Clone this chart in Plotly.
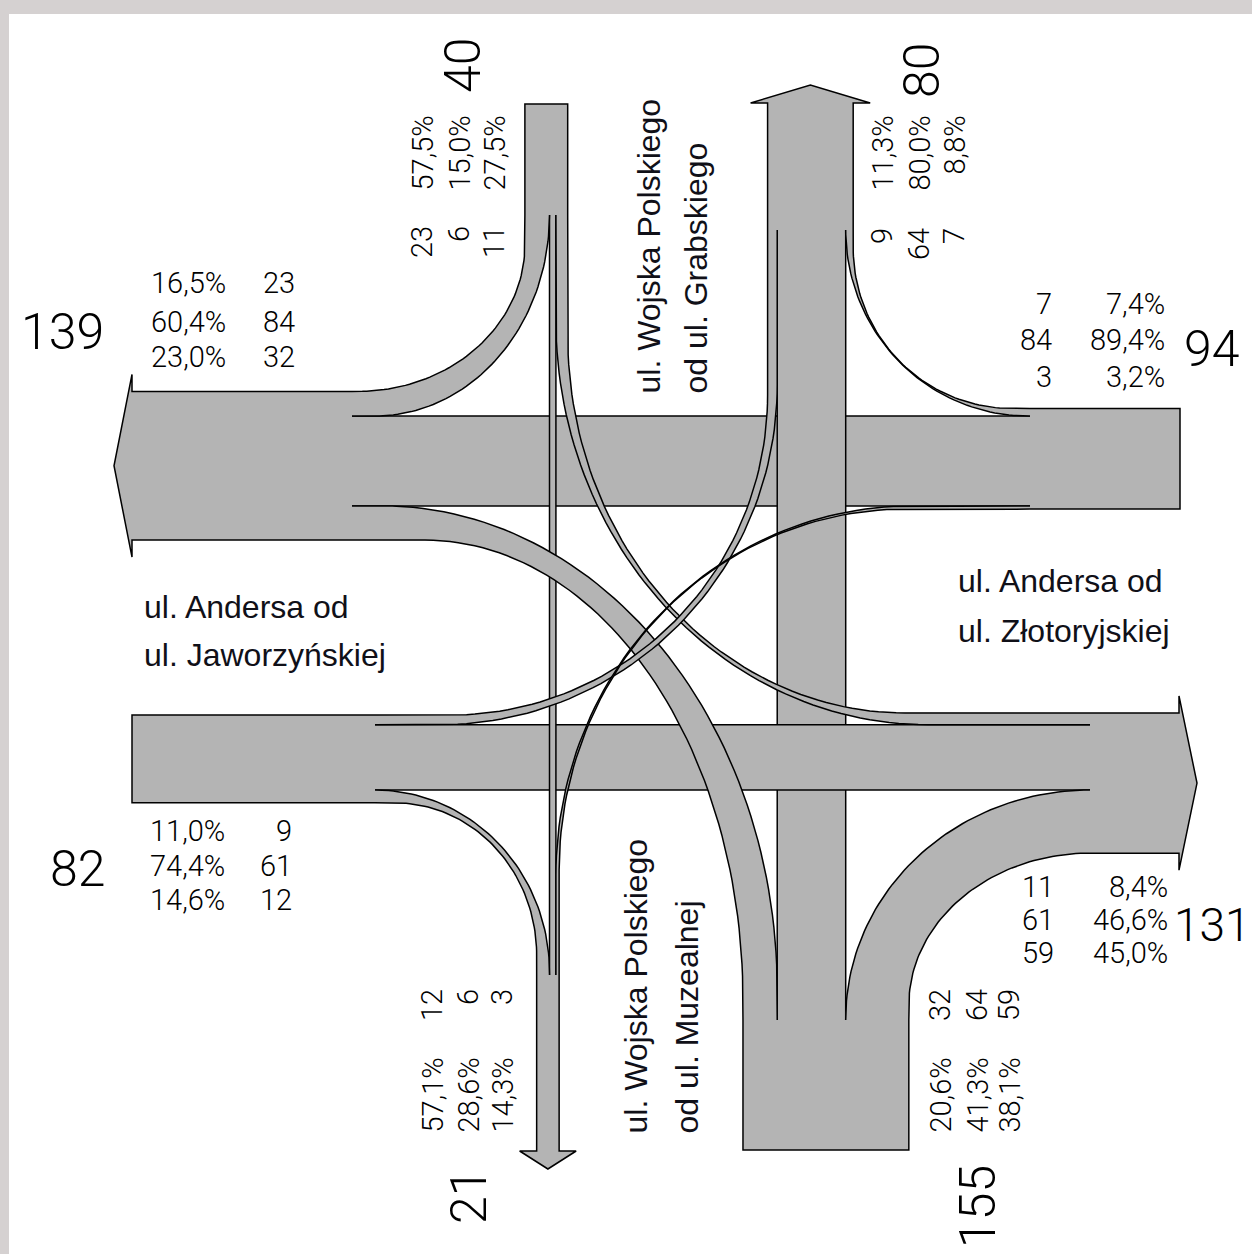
import math
import plotly.graph_objects as go

# natężenia ruchu [P/h] na wlotach: [w prawo, na wprost, w lewo]
wlot_N = [23, 6, 11]    # od ul. Grabskiego
wlot_E = [7, 84, 3]     # od ul. Złotoryjskiej
wlot_S = [59, 64, 32]   # od ul. Muzealnej
wlot_W = [12, 61, 9]    # od ul. Jaworzyńskiej

ulica_N = ["ul. Wojska Polskiego", "od ul. Grabskiego"]
ulica_S = ["ul. Wojska Polskiego", "od ul. Muzealnej"]
ulica_W = ["ul. Andersa od", "ul. Jaworzyńskiej"]
ulica_E = ["ul. Andersa od", "ul. Złotoryjskiej"]

SZARY = "#b4b4b4"
RAMA = "#d5d1d1"
SKALA = 1.07          # px na pojazd
LW = 1.5

WLOT = {"N": wlot_N, "E": wlot_E, "S": wlot_S, "W": wlot_W}
KIER_WLOT = {"N": (0, 1), "E": (-1, 0), "S": (0, -1), "W": (1, 0)}
RAMIE_WLOT = {v: k for k, v in KIER_WLOT.items()}
RAMIE_WYLOT = {(0, -1): "N", (1, 0): "E", (0, 1): "S", (-1, 0): "W"}
KIER_WYLOT = {v: k for k, v in RAMIE_WYLOT.items()}

# położenie krawędzi pasa "na wprost" od strony prawej (wg kierunku jazdy)
KRAWEDZ = {(0, 1): 549.5, (0, -1): 845.7, (-1, 0): 416.0, (1, 0): 790.0}

WJAZD = {"N": 104, "E": 1180, "S": 1150, "W": 132}
PODZIAL = {"N": 215, "E": 1030, "S": 1020, "W": 375}
GROT = {"N": 103, "E": 1179, "S": 1151, "W": 132}
LACZ = {"N": 230, "E": 1090, "S": 975, "W": 352}

# łuki: (ramię, relacja) -> ((początek, koniec) krawędzi prawej, (początek, koniec) krawędzi lewej)
LUKI = {
    ("N", 0): ((245, 358), (215, 375)),
    ("E", 0): ((1012, 248), (1028, 230)),
    ("S", 0): ((1005, 1090), (1019, 1090)),
    ("W", 0): ((395, 955), (375, 972)),
    ("N", 2): ((320, 928), (335, 905)),
    ("S", 2): ((990, 382), (1000, 425)),
    ("W", 2): ((440, 385), (450, 395)),
    ("E", 2): ((912, 875), (905, 870)),
}


def prawo(d):
    return (-d[1], d[0])


def lewo(d):
    return (d[1], -d[0])


def pion(d):
    return d[0] == 0


def znak(d):
    l = lewo(d)
    return l[0] if pion(d) else l[1]


def pt(d, wzdl, poprz):
    return (poprz, wzdl) if pion(d) else (wzdl, poprz)


def pasy(d, f):
    c0 = KRAWEDZ[d]
    sg = znak(d)
    return [(c0 - sg * f[0] * SKALA, c0),
            (c0, c0 + sg * f[1] * SKALA),
            (c0 + sg * f[1] * SKALA, c0 + sg * (f[1] + f[2]) * SKALA)]


def wylot(d):
    return [WLOT[RAMIE_WLOT[lewo(d)]][0], WLOT[RAMIE_WLOT[d]][1], WLOT[RAMIE_WLOT[prawo(d)]][2]]


def luk(d_in, c_in, s_split, s0, d_out, c_out, e1, e_merge):
    P0 = pt(d_in, s0, c_in)
    P3 = pt(d_out, e1, c_out)
    b = (P3[0] - P0[0]) * d_in[0] + (P3[1] - P0[1]) * d_in[1]
    C = (P3[0] - b * d_in[0], P3[1] - b * d_in[1])
    A = (P0[0] - C[0], P0[1] - C[1])
    pts = [pt(d_in, s_split, c_in)]
    for i in range(61):
        t = math.pi / 2 * i / 60
        pts.append((C[0] + A[0] * math.cos(t) + b * d_in[0] * math.sin(t),
                    C[1] + A[1] * math.cos(t) + b * d_in[1] * math.sin(t)))
    pts.append(pt(d_out, e_merge, c_out))
    return pts


fig = go.Figure()


def wielokat(poly, linie):
    xs = [p[0] for p in poly] + [poly[0][0]]
    ys = [p[1] for p in poly] + [poly[0][1]]
    fig.add_trace(go.Scatter(x=xs, y=ys, mode="lines", fill="toself", fillcolor=SZARY,
                             line=dict(width=0), hoverinfo="skip"))
    lx, ly = [], []
    for seg in linie:
        lx += [p[0] for p in seg] + [None]
        ly += [p[1] for p in seg] + [None]
    fig.add_trace(go.Scatter(x=lx, y=ly, mode="lines", line=dict(color="black", width=LW),
                             hoverinfo="skip"))


# wloty
for ramie in "NESW":
    d = KIER_WLOT[ramie]
    p = pasy(d, WLOT[ramie])
    a, b = p[0][0], p[2][1]
    pol = [pt(d, PODZIAL[ramie], a), pt(d, WJAZD[ramie], a), pt(d, WJAZD[ramie], b), pt(d, PODZIAL[ramie], b)]
    wielokat(pol, [pol])

# wyloty ze strzałkami
for ramie in "NESW":
    d = KIER_WYLOT[ramie]
    p = pasy(d, wylot(d))
    lo, hi = sorted([p[0][0], p[2][1]])
    s = d[1] if pion(d) else d[0]
    g = GROT[ramie]
    pol = [pt(d, LACZ[ramie], lo), pt(d, g, lo), pt(d, g, lo - 17), pt(d, g + 18 * s, (lo + hi) / 2),
           pt(d, g, hi + 17), pt(d, g, hi), pt(d, LACZ[ramie], hi)]
    wielokat(pol, [pol])

# relacje na wprost
for ramie in ["E", "S", "W", "N"]:
    d = KIER_WLOT[ramie]
    c = pasy(d, WLOT[ramie])[1]
    cel = RAMIE_WYLOT[d]
    r = [pt(d, PODZIAL[ramie], c[0]), pt(d, LACZ[cel], c[0])]
    l = [pt(d, PODZIAL[ramie], c[1]), pt(d, LACZ[cel], c[1])]
    wielokat(r + l[::-1], [r, l])

# skręty: najpierw w prawo, potem w lewo
for ramie, k in [("N", 0), ("E", 0), ("S", 0), ("W", 0), ("S", 2), ("N", 2), ("W", 2), ("E", 2)]:
    d = KIER_WLOT[ramie]
    d_out = prawo(d) if k == 0 else lewo(d)
    cel = RAMIE_WYLOT[d_out]
    c_in = pasy(d, WLOT[ramie])[k]
    c_out = pasy(d_out, wylot(d_out))[k]
    (s_r, e_r), (s_l, e_l) = LUKI[(ramie, k)]
    r = luk(d, c_in[0], PODZIAL[ramie], s_r, d_out, c_out[0], e_r, LACZ[cel])
    l = luk(d, c_in[1], PODZIAL[ramie], s_l, d_out, c_out[1], e_l, LACZ[cel])
    wielokat(r + l[::-1], [r, l])


# opisy
def proc(v, suma):
    t = math.floor(v * 1000 / suma + 0.5)
    return f"{t // 10},{t % 10}%"


F_MALA = dict(family="Roboto", size=29, color="black", weight=300)
F_DUZA = dict(family="Roboto", size=50, color="black", weight=300)
F_ULICA = dict(family="Liberation Sans, Arial", size=32, color="#101018")


def napis(x, y, t, font, xa="center", ya="middle", kat=0):
    fig.add_annotation(x=x, y=y, text=t, showarrow=False, font=font, xanchor=xa, yanchor=ya,
                       textangle=kat, borderpad=0)


def kolejnosc(d, f):
    p = pasy(d, f)
    sr = [(a + b) / 2 for a, b in p]
    return [f[i] for i in sorted(range(3), key=lambda i: sr[i])]


# grupy poziome: (kierunek, wartości, wiersze y, x procentów, x liczb, suma (x, y, anchor, rozmiar))
POZIOME = [
    (KIER_WYLOT["W"], wylot(KIER_WYLOT["W"]), [283, 322, 357], 227, 296, (62, 332, "center", 50)),
    (KIER_WLOT["W"], wlot_W, [831, 866, 900], 226, 293, (77, 869, "center", 50)),
    (KIER_WLOT["E"], wlot_E, [304, 340, 377], 1166, 1053, (1183, 349, "left", 50)),
    (KIER_WYLOT["E"], wylot(KIER_WYLOT["E"]), [887, 920, 953], 1169, 1055, (1252, 925, "right", 46)),
]
for d, f, wiersze, xp, xn, (tx, ty, ta, rozm) in POZIOME:
    suma = sum(f)
    for y, v in zip(wiersze, kolejnosc(d, f)):
        napis(xp, y, proc(v, suma), F_MALA, xa="right")
        napis(xn, y, str(v), F_MALA, xa="right")
    napis(tx, ty, str(suma), dict(F_DUZA, size=rozm), xa=ta)

# grupy pionowe: (kierunek, wartości, kolumny x, góra liczb, góra procentów, suma (x, y))
PIONOWE = [
    (KIER_WLOT["N"], wlot_N, [422, 459, 494], 225, 115, (463, 66)),
    (KIER_WYLOT["N"], wylot(KIER_WYLOT["N"]), [882, 919, 954], 227, 115, (922, 71)),
    (KIER_WYLOT["S"], wylot(KIER_WYLOT["S"]), [432, 468, 502], 988, 1057, (469, 1197)),
    (KIER_WLOT["S"], wlot_S, [940, 977, 1009], 988, 1057, (978, 1207)),
]
for d, f, kol, yn, yp, (tx, ty) in PIONOWE:
    suma = sum(f)
    for x, v in zip(kol, kolejnosc(d, f)):
        napis(x, yn, str(v), F_MALA, ya="top", kat=-90)
        napis(x, yp, proc(v, suma), F_MALA, ya="top", kat=-90)
    napis(tx, ty, str(suma), F_DUZA, kat=-90)

# nazwy ulic
for (x, y), t in zip([(143, 607), (143, 655)], ulica_W):
    napis(x, y, t, F_ULICA, xa="left")
for (x, y), t in zip([(957, 581), (957, 631)], ulica_E):
    napis(x, y, t, F_ULICA, xa="left")
for x, t in zip([648, 695], ulica_N):
    napis(x, 395, t, F_ULICA, ya="bottom", kat=-90)
for x, t in zip([635, 686], ulica_S):
    napis(x, 1135, t, F_ULICA, ya="bottom", kat=-90)

# ramka okna
fig.add_shape(type="rect", x0=0, x1=1252, y0=0, y1=14, fillcolor=RAMA, line=dict(width=0), layer="above")
fig.add_shape(type="rect", x0=0, x1=9, y0=0, y1=1254, fillcolor=RAMA, line=dict(width=0), layer="above")

fig.update_layout(
    width=1252, height=1254, autosize=False,
    margin=dict(l=0, r=0, t=0, b=0),
    paper_bgcolor="white", plot_bgcolor="white",
    showlegend=False,
    xaxis=dict(range=[0, 1252], visible=False, fixedrange=True),
    yaxis=dict(range=[1254, 0], visible=False, fixedrange=True),
)

fig.write_html("out.html", config={"displayModeBar": False},
               post_script="document.body.style.margin='0px';document.body.style.overflow='hidden';")
